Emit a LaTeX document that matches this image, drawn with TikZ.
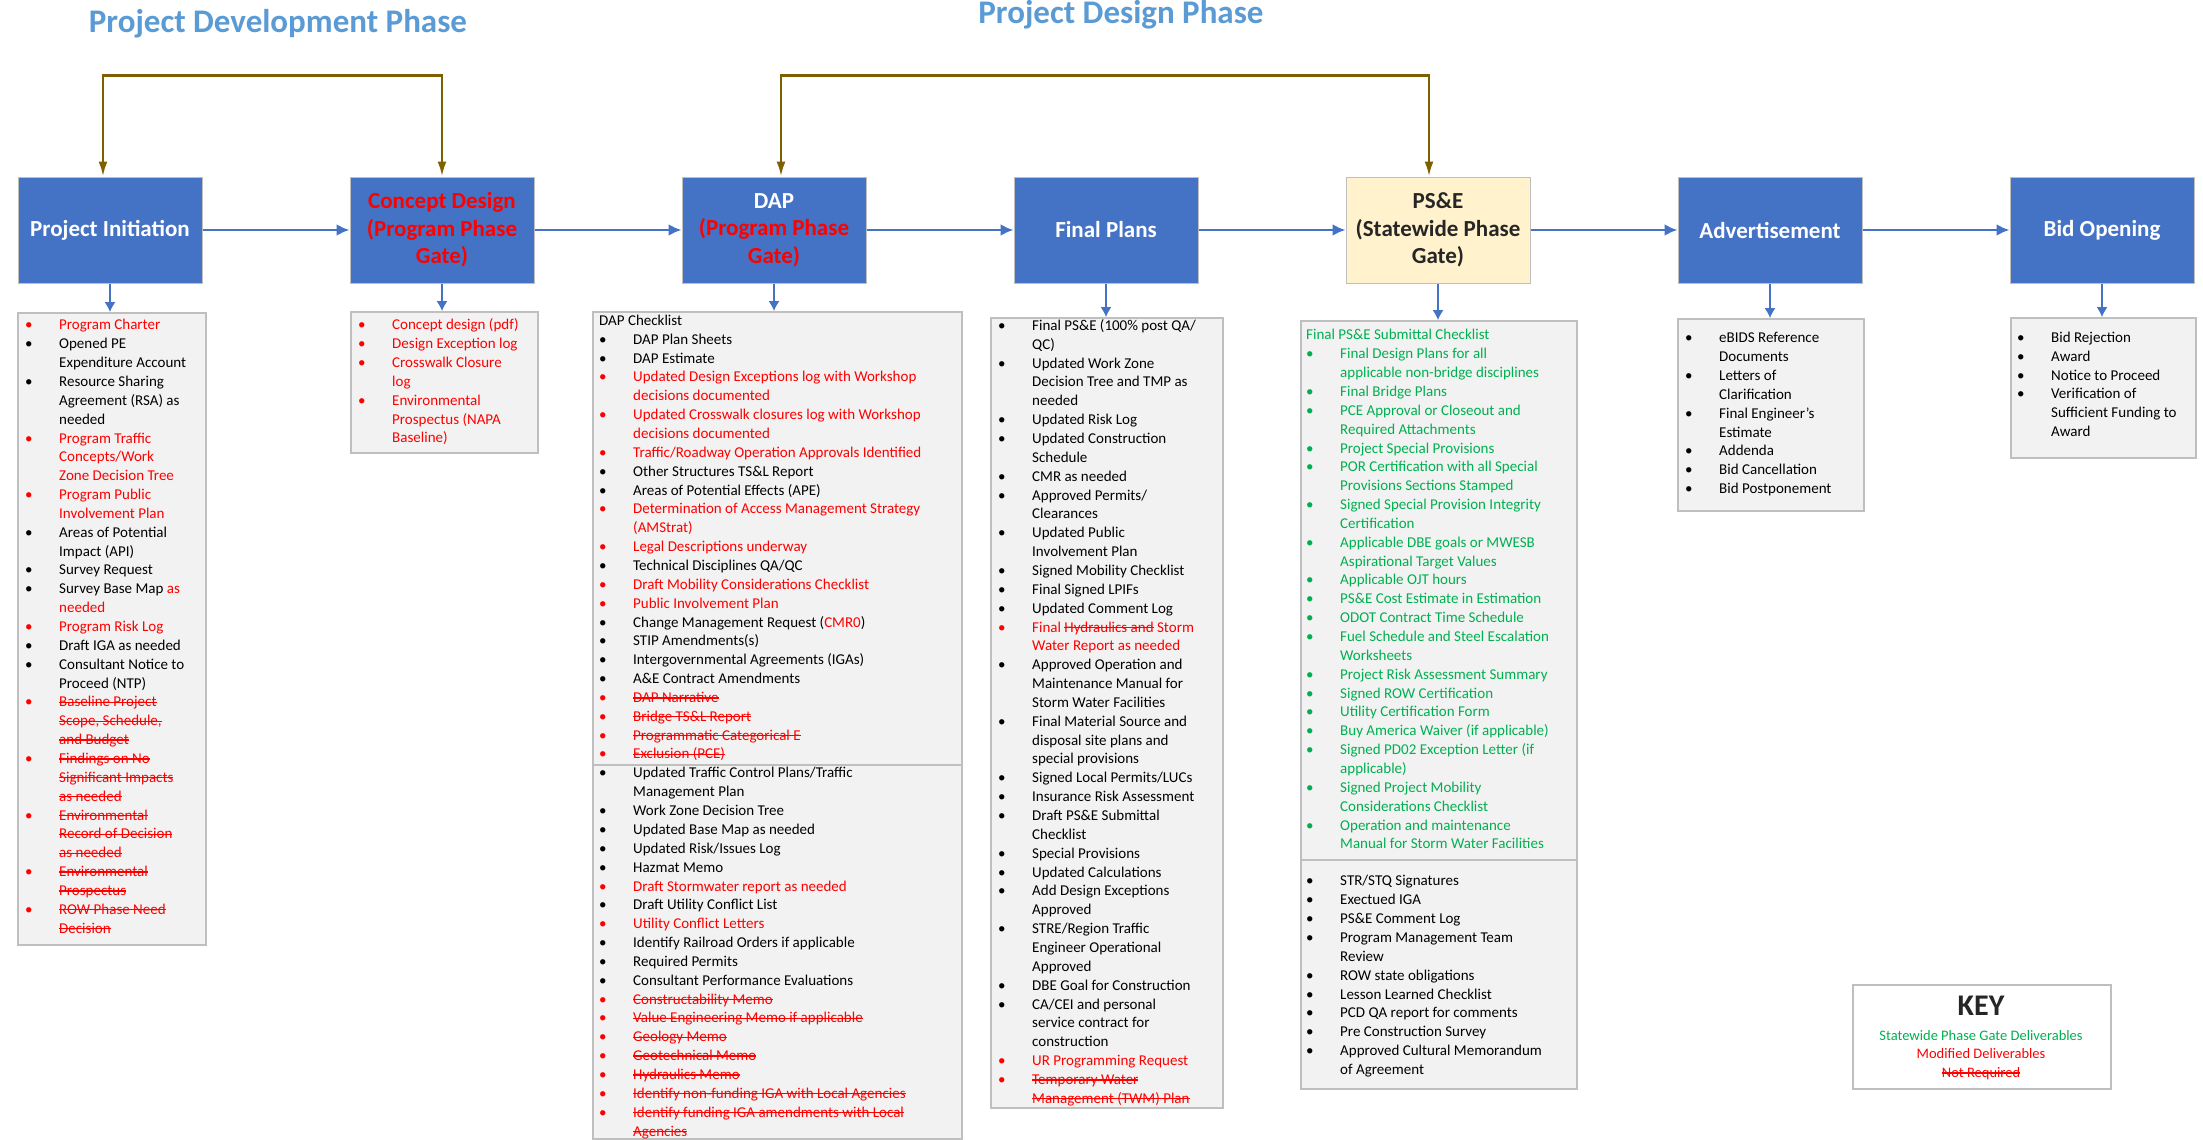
\documentclass[tikz,border=0pt]{standalone}
\usepackage{fontspec}
\setmainfont{Carlito}
\usepackage{xcolor}
\usetikzlibrary{arrows,arrows.meta,positioning}
\definecolor{boxblue}{HTML}{4472C4}
\definecolor{titleblue}{HTML}{5B9BD5}
\definecolor{gatebrown}{HTML}{7F6000}
\definecolor{listgray}{HTML}{F2F2F2}
\definecolor{framegray}{HTML}{BFBFBF}
\definecolor{keygreen}{HTML}{00B050}
\definecolor{gatefill}{HTML}{FFF2CC}
\definecolor{gatetext}{HTML}{262626}
% struck-out text
\newsavebox{\strkbox}
\newcommand{\strk}[1]{\sbox{\strkbox}{#1}\rlap{\rule[0.26em]{\wd\strkbox}{1.3pt}}\usebox{\strkbox}}
% list rows: bullet column & text column
\newcommand{\ibk}[1]{\textbullet & #1\\}
\newcommand{\ird}[1]{\textcolor{red}{\textbullet} & \textcolor{red}{#1}\\}
\newcommand{\ign}[1]{\textcolor{keygreen}{\textbullet} & \textcolor{keygreen}{#1}\\}
\newcommand{\ist}[1]{\textcolor{red}{\textbullet} & \textcolor{red}{\strk{#1}}\\}
\newcommand{\icn}[1]{ & #1\\}
\newcommand{\icr}[1]{ & \textcolor{red}{#1}\\}
\newcommand{\icg}[1]{ & \textcolor{keygreen}{#1}\\}
\newcommand{\ics}[1]{ & \textcolor{red}{\strk{#1}}\\}
\newcommand{\ihead}[1]{\multicolumn{2}{@{}l@{}}{#1}\\}
\newenvironment{checks}{\begin{tabular}{@{}p{34pt}@{}l@{}}}{\end{tabular}}
\tikzset{%
	phase/.style   = {draw=framegray, line width=1pt, fill=boxblue, minimum width=184pt, minimum height=106pt, text=white, align=center, font=\fontsize{23}{27.5}\selectfont\bfseries},
	gate/.style    = {phase, fill=gatefill, text=gatetext},
	listbox/.style = {draw=framegray, line width=1.5pt, fill=listgray, anchor=north west, inner sep=0pt},
	listtext/.style= {anchor=north west, inner sep=0pt, font=\fontsize{15}{18.85}\selectfont},
	title/.style   = {text=titleblue, font=\fontsize{33}{36}\selectfont\bfseries},
	flow/.style    = {boxblue, line width=2.5pt, -{Latex[length=13pt,width=12pt]}},
	drop/.style    = {boxblue, line width=1.3pt, -{Latex[length=10pt,width=11pt]}},
	bracket/.style = {gatebrown, line width=2.5pt, {Latex[length=15pt,width=9pt]}-{Latex[length=15pt,width=9pt]}},
}

\begin{document}
\begin{tikzpicture}[x=1pt,y=-1pt]
	\fill[white] (0,0) rectangle (2203,1140);
	\useasboundingbox (0,0) rectangle (2203,1140);
	
	\node[title] (devtitle) at (278,24) {Project Development Phase};
	\node[title] (destitle) at (1121,15) {Project Design Phase};
	
	% phase boxes
	\node[phase] (pi) at (110,230) {Project Initiation};
	\node[phase, text=red, right=147pt of pi] (cd) {Concept Design\\(Program Phase\\Gate)};
	\node[phase, right=147pt of cd] (dap) {DAP\\\textcolor{red}{(Program Phase}\\\textcolor{red}{Gate)}};
	\node[phase, right=147pt of dap] (fp) {Final Plans};
	\node[gate, right=147pt of fp] (pse) {PS\&E\\(Statewide Phase\\Gate)};
	\node[phase, right=147pt of pse] (adv) {Advertisement};
	\node[phase, right=147pt of adv] (bid) {Bid Opening};
	
	\draw[flow] (pi) -- (cd);
	\draw[flow] (cd) -- (dap);
	\draw[flow] (dap) -- (fp);
	\draw[flow] (fp) -- (pse);
	\draw[flow] (pse) -- (adv);
	\draw[flow] (adv) -- (bid);
	
	\draw[bracket] ([xshift=-7pt]pi.north) -- ++(0,-101) -| (cd.north);
	\draw[bracket] ([xshift=7pt]dap.north) -- ++(0,-101) -| ([xshift=-9pt]pse.north);
	
	% deliverable lists
	\node[listbox, minimum width=188pt, minimum height=632pt] (pilist) at (17,312) {};
	\node[listtext] (pitext) at ([shift={(8,4.5)}]pilist.north west) {\begin{checks}
		\ird{Program Charter}
		\ibk{Opened PE}
		\icn{Expenditure Account}
		\ibk{Resource Sharing}
		\icn{Agreement (RSA) as}
		\icn{needed}
		\ird{Program Traffic}
		\icr{Concepts/Work}
		\icr{Zone Decision Tree}
		\ird{Program Public}
		\icr{Involvement Plan}
		\ibk{Areas of Potential}
		\icn{Impact (API)}
		\ibk{Survey Request}
		\ibk{Survey Base Map \textcolor{red}{as}}
		\icr{needed}
		\ird{Program Risk Log}
		\ibk{Draft IGA as needed}
		\ibk{Consultant Notice to}
		\icn{Proceed (NTP)}
		\ist{Baseline Project}
		\ics{Scope, Schedule,}
		\ics{and Budget}
		\ist{Findings on No}
		\ics{Significant Impacts}
		\ics{as needed}
		\ist{Environmental}
		\ics{Record of Decision}
		\ics{as needed}
		\ist{Environmental}
		\ics{Prospectus}
		\ist{ROW Phase Need}
		\ics{Decision}
	\end{checks}};
	
	\node[listbox, minimum width=187pt, minimum height=141pt] (cdlist) at (350,311) {};
	\node[listtext] (cdtext) at ([shift={(8,5.5)}]cdlist.north west) {\begin{checks}
		\ird{Concept design (pdf)}
		\ird{Design Exception log}
		\ird{Crosswalk Closure}
		\icr{log}
		\ird{Environmental}
		\icr{Prospectus (NAPA}
		\icr{Baseline)}
	\end{checks}};
	
	\node[listbox, minimum width=369pt, minimum height=453pt] (daplist) at (592,311) {};
	\node[listtext] (daptext) at ([shift={(7,1)}]daplist.north west) {\begin{checks}
		\ihead{DAP Checklist}
		\ibk{DAP Plan Sheets}
		\ibk{DAP Estimate}
		\ird{Updated Design Exceptions log with Workshop}
		\icr{decisions documented}
		\ird{Updated Crosswalk closures log with Workshop}
		\icr{decisions documented}
		\ird{Traffic/Roadway Operation Approvals Identified}
		\ibk{Other Structures TS\&L Report}
		\ibk{Areas of Potential Effects (APE)}
		\ird{Determination of Access Management Strategy}
		\icr{(AMStrat)}
		\ird{Legal Descriptions underway}
		\ibk{Technical Disciplines QA/QC}
		\ird{Draft Mobility Considerations Checklist}
		\ird{Public Involvement Plan}
		\ibk{Change Management Request (\textcolor{red}{CMR0})}
		\ibk{STIP Amendments(s)}
		\ibk{Intergovernmental Agreements (IGAs)}
		\ibk{A\&E Contract Amendments}
		\ist{DAP Narrative}
		\ist{Bridge TS\&L Report}
		\ist{Programmatic Categorical E}
		\ist{Exclusion (PCE)}
	\end{checks}};
	\node[listbox, minimum width=369pt, minimum height=374pt] (daplow) at (592,764) {};
	\node[listtext] (daplowtext) at ([shift={(7,0.5)}]daplow.north west) {\begin{checks}
		\ibk{Updated Traffic Control Plans/Traffic}
		\icn{Management Plan}
		\ibk{Work Zone Decision Tree}
		\ibk{Updated Base Map as needed}
		\ibk{Updated Risk/Issues Log}
		\ibk{Hazmat Memo}
		\ird{Draft Stormwater report as needed}
		\ibk{Draft Utility Conflict List}
		\ird{Utility Conflict Letters}
		\ibk{Identify Railroad Orders if applicable}
		\ibk{Required Permits}
		\ibk{Consultant Performance Evaluations}
		\ist{Constructability Memo}
		\ist{Value Engineering Memo if applicable}
		\ist{Geology Memo}
		\ist{Geotechnical Memo}
		\ist{Hydraulics Memo}
		\ist{Identify non-funding IGA with Local Agencies}
		\ist{Identify funding IGA amendments with Local}
		\ics{Agencies}
	\end{checks}};
	
	\node[listbox, minimum width=232pt, minimum height=790pt] (fplist) at (990,317) {};
	\node[listtext] (fptext) at ([shift={(8,0)}]fplist.north west) {\begin{checks}
		\ibk{Final PS\&E (100\% post QA/}
		\icn{QC)}
		\ibk{Updated Work Zone}
		\icn{Decision Tree and TMP as}
		\icn{needed}
		\ibk{Updated Risk Log}
		\ibk{Updated Construction}
		\icn{Schedule}
		\ibk{CMR as needed}
		\ibk{Approved Permits/}
		\icn{Clearances}
		\ibk{Updated Public}
		\icn{Involvement Plan}
		\ibk{Signed Mobility Checklist}
		\ibk{Final Signed LPIFs}
		\ibk{Updated Comment Log}
		\ird{Final \strk{Hydraulics and} Storm}
		\icr{Water Report as needed}
		\ibk{Approved Operation and}
		\icn{Maintenance Manual for}
		\icn{Storm Water Facilities}
		\ibk{Final Material Source and}
		\icn{disposal site plans and}
		\icn{special provisions}
		\ibk{Signed Local Permits/LUCs}
		\ibk{Insurance Risk Assessment}
		\ibk{Draft PS\&E Submittal}
		\icn{Checklist}
		\ibk{Special Provisions}
		\ibk{Updated Calculations}
		\ibk{Add Design Exceptions}
		\icn{Approved}
		\ibk{STRE/Region Traffic}
		\icn{Engineer Operational}
		\icn{Approved}
		\ibk{DBE Goal for Construction}
		\ibk{CA/CEI and personal}
		\icn{service contract for}
		\icn{construction}
		\ird{UR Programming Request}
		\ist{Temporary Water}
		\ics{Management (TWM) Plan}
	\end{checks}};
	
	\node[listbox, minimum width=276pt, minimum height=539pt] (pselist) at (1300,320) {};
	\node[listtext] (psetext) at ([shift={(6,6.5)}]pselist.north west) {\begin{checks}
		\ihead{\textcolor{keygreen}{Final PS\&E Submittal Checklist}}
		\ign{Final Design Plans for all}
		\icg{applicable non-bridge disciplines}
		\ign{Final Bridge Plans}
		\ign{PCE Approval or Closeout and}
		\icg{Required Attachments}
		\ign{Project Special Provisions}
		\ign{POR Certification with all Special}
		\icg{Provisions Sections Stamped}
		\ign{Signed Special Provision Integrity}
		\icg{Certification}
		\ign{Applicable DBE goals or MWESB}
		\icg{Aspirational Target Values}
		\ign{Applicable OJT hours}
		\ign{PS\&E Cost Estimate in Estimation}
		\ign{ODOT Contract Time Schedule}
		\ign{Fuel Schedule and Steel Escalation}
		\icg{Worksheets}
		\ign{Project Risk Assessment Summary}
		\ign{Signed ROW Certification}
		\ign{Utility Certification Form}
		\ign{Buy America Waiver (if applicable)}
		\ign{Signed PD02 Exception Letter (if}
		\icg{applicable)}
		\ign{Signed Project Mobility}
		\icg{Considerations Checklist}
		\ign{Operation and maintenance}
		\icg{Manual for Storm Water Facilities}
	\end{checks}};
	\node[listbox, minimum width=276pt, minimum height=229pt] (pselow) at (1300,859) {};
	\node[listtext] (pselowtext) at ([shift={(6,13.5)}]pselow.north west) {\begin{checks}
		\ibk{STR/STQ Signatures}
		\ibk{Exectued IGA}
		\ibk{PS\&E Comment Log}
		\ibk{Program Management Team}
		\icn{Review}
		\ibk{ROW state obligations}
		\ibk{Lesson Learned Checklist}
		\ibk{PCD QA report for comments}
		\ibk{Pre Construction Survey}
		\ibk{Approved Cultural Memorandum}
		\icn{of Agreement}
	\end{checks}};
	
	\node[listbox, minimum width=186pt, minimum height=192pt] (advlist) at (1677,318) {};
	\node[listtext] (advtext) at ([shift={(8,11.5)}]advlist.north west) {\begin{checks}
		\ibk{eBIDS Reference}
		\icn{Documents}
		\ibk{Letters of}
		\icn{Clarification}
		\ibk{Final Engineer’s}
		\icn{Estimate}
		\ibk{Addenda}
		\ibk{Bid Cancellation}
		\ibk{Bid Postponement}
	\end{checks}};
	
	\node[listbox, minimum width=185pt, minimum height=140pt] (bidlist) at (2010,317) {};
	\node[listtext] (bidtext) at ([shift={(7,12)}]bidlist.north west) {\begin{checks}
		\ibk{Bid Rejection}
		\ibk{Award}
		\ibk{Notice to Proceed}
		\ibk{Verification of}
		\icn{Sufficient Funding to}
		\icn{Award}
	\end{checks}};
	
	\draw[drop] (pi.south) -- (pi.south |- pilist.north);
	\draw[drop] (cd.south) -- (cd.south |- cdlist.north);
	\draw[drop] (dap.south) -- (dap.south |- daplist.north);
	\draw[drop] (fp.south) -- (fp.south |- fplist.north);
	\draw[drop] (pse.south) -- (pse.south |- pselist.north);
	\draw[drop] (adv.south) -- (adv.south |- advlist.north);
	\draw[drop] (bid.south) -- (bid.south |- bidlist.north);
	
	% key
	\node[listbox, fill=white, minimum width=258pt, minimum height=104pt] (key) at (1852,984) {};
	\node[font=\fontsize{30}{34}\selectfont\bfseries, text=gatetext] (keyhead) at (1981,1006) {KEY};
	\node[align=center, font=\fontsize{14.5}{18.5}\selectfont] (keytext) at (1981,1055) {\textcolor{keygreen}{Statewide Phase Gate Deliverables}\\\textcolor{red}{Modified Deliverables}\\\textcolor{red}{\strk{Not Required}}};
	
\end{tikzpicture}
\end{document}
